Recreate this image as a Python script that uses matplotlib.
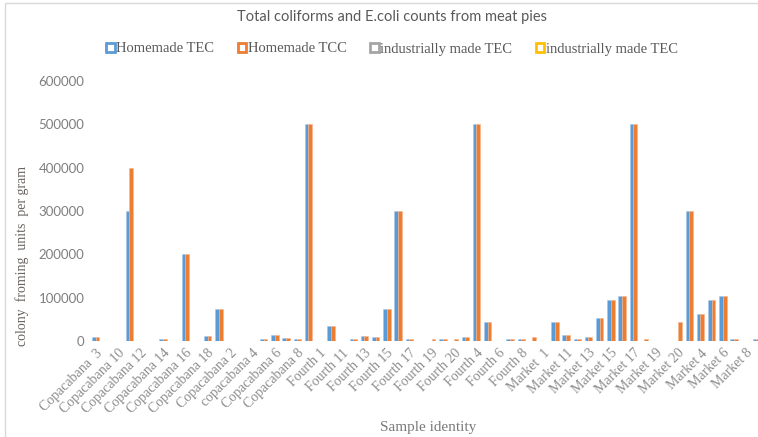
import numpy as np
from matplotlib import pyplot as plt
from matplotlib.patches import Patch, Rectangle

# Categorias (orden alfabetico como en la hoja de calculo)
muestras = ["Copacabana  3", "Copacabana 1", "Copacabana 10", "Copacabana 11", "Copacabana 12",
            "Copacabana 13", "Copacabana 14", "Copacabana 15", "Copacabana 16", "Copacabana 17",
            "Copacabana 18", "Copacabana 19", "Copacabana 2", "Copacabana 20", "copacabana 4",
            "Copacabana 5", "Copacabana 6", "Copacabana 7", "Copacabana 8", "Copacabana 9",
            "Fourth 1", "Fourth 10", "Fourth 11", "Fourth 12", "Fourth 13",
            "Fourth 14", "Fourth 15", "Fourth 16", "Fourth 17", "Fourth 18",
            "Fourth 19", "Fourth 2", "Fourth 20", "Fourth 3", "Fourth 4",
            "Fourth 5", "Fourth 6", "Fourth 7", "Fourth 8", "Fourth 9",
            "Market  1", "Market 10", "Market 11", "Market 12", "Market 13",
            "Market 14", "Market 15", "Market 16", "Market 17", "Market 18",
            "Market 19", "Market 2", "Market 20", "Market 3", "Market 4",
            "Market 5", "Market 6", "Market 7", "Market 8", "Market 9"]

# Homemade TEC (azul)
homemade_tec = [10000, 0, 0, 300000, 0, 0, 5000, 0, 200000, 0,
                12000, 75000, 0, 0, 0, 5000, 14000, 8000, 5000, 500000,
                0, 35000, 0, 5000, 12000, 10000, 75000, 300000, 5000, 0,
                0, 5000, 0, 10000, 500000, 43000, 0, 5000, 5000, 0,
                0, 43000, 14000, 5000, 10000, 54000, 95000, 103000, 500000, 0,
                0, 0, 0, 300000, 63000, 95000, 103000, 5000, 0, 5000]

# Homemade TCC (naranja)
homemade_tcc = [10000, 0, 0, 400000, 0, 0, 5000, 0, 200000, 0,
                12000, 75000, 0, 0, 0, 5000, 14000, 8000, 5000, 500000,
                0, 35000, 0, 5000, 12000, 10000, 75000, 300000, 5000, 0,
                5000, 5000, 5000, 10000, 500000, 43000, 0, 5000, 5000, 10000,
                0, 43000, 14000, 5000, 10000, 54000, 95000, 103000, 500000, 5000,
                0, 0, 43000, 300000, 63000, 95000, 103000, 5000, 0, 5000]

series = ["Homemade TEC", "Homemade TCC", "industrially made TEC", "industrially made TEC"]
colores = ["#5B9BD5", "#ED7D31", "#A5A5A5", "#FFC000"]
yticks = [0, 100000, 200000, 300000, 400000, 500000, 600000]

gris = "#7f7f7f"
serif = ["Liberation Serif", "DejaVu Serif"]

fig = plt.figure(figsize=(7.58, 4.37), dpi=100)

# marco del area del grafico
fig.add_artist(Rectangle((5 / 758, -0.05), 1.2, (437 - 3) / 437 + 0.05,
                         transform=fig.transFigure, fill=False,
                         edgecolor="#d9d9d9", linewidth=1))

ax = fig.add_axes([90 / 758, (437 - 341) / 437, (758 - 90) / 758, 260 / 437])

x = np.arange(len(muestras))
w = 0.33
ax.bar(x - w / 2, homemade_tec, w, color=colores[0], edgecolor="#a9c8e8", linewidth=0.4)
ax.bar(x + w / 2, homemade_tcc, w, color=colores[1], edgecolor="#f4b58f", linewidth=0.4)

ax.set_xlim(-0.5, (758 - 95.7) / 11.2)
ax.set_ylim(0, 600000)
ax.set_yticks(yticks)
ax.set_yticklabels([str(v) for v in yticks], fontsize=9.5, color=gris, family=["Lato", "DejaVu Sans"])
ax.set_xticks(x[::2])
ax.set_xticklabels(muestras[::2], rotation=45, ha="right", rotation_mode="anchor",
                   fontsize=10, color="#8c8c8c", family=serif)
ax.tick_params(axis="both", length=0, pad=4)
for s in ax.spines.values():
    s.set_visible(False)

fig.text(22 / 758, 1 - 256 / 437, "colony  froming  units  per gram", rotation=90,
         ha="center", va="center", fontsize=10, color="#6b6460", family=serif)
fig.text(428 / 758, 1 - 427 / 437, "Sample identity", ha="center", va="center",
         fontsize=11, color="#7a7a7a", family=serif)
fig.text(392 / 758, 1 - 17 / 437, "Total coliforms and E.coli counts from meat pies",
         ha="center", va="center", fontsize=10.5, color="#595959", family=["Lato", "DejaVu Sans"])

# leyenda
handles = [Patch(facecolor="white", edgecolor=c, linewidth=2) for c in colores]
fig.legend(handles, series, loc="center", bbox_to_anchor=(392 / 758, 1 - 49 / 437),
           ncol=4, frameon=False, handlelength=0.6, handleheight=0.6, handletextpad=0.1,
           columnspacing=1.6, prop={"family": serif, "size": 10.5}, labelcolor="#595959")

fig.savefig("out.png", dpi=100)
